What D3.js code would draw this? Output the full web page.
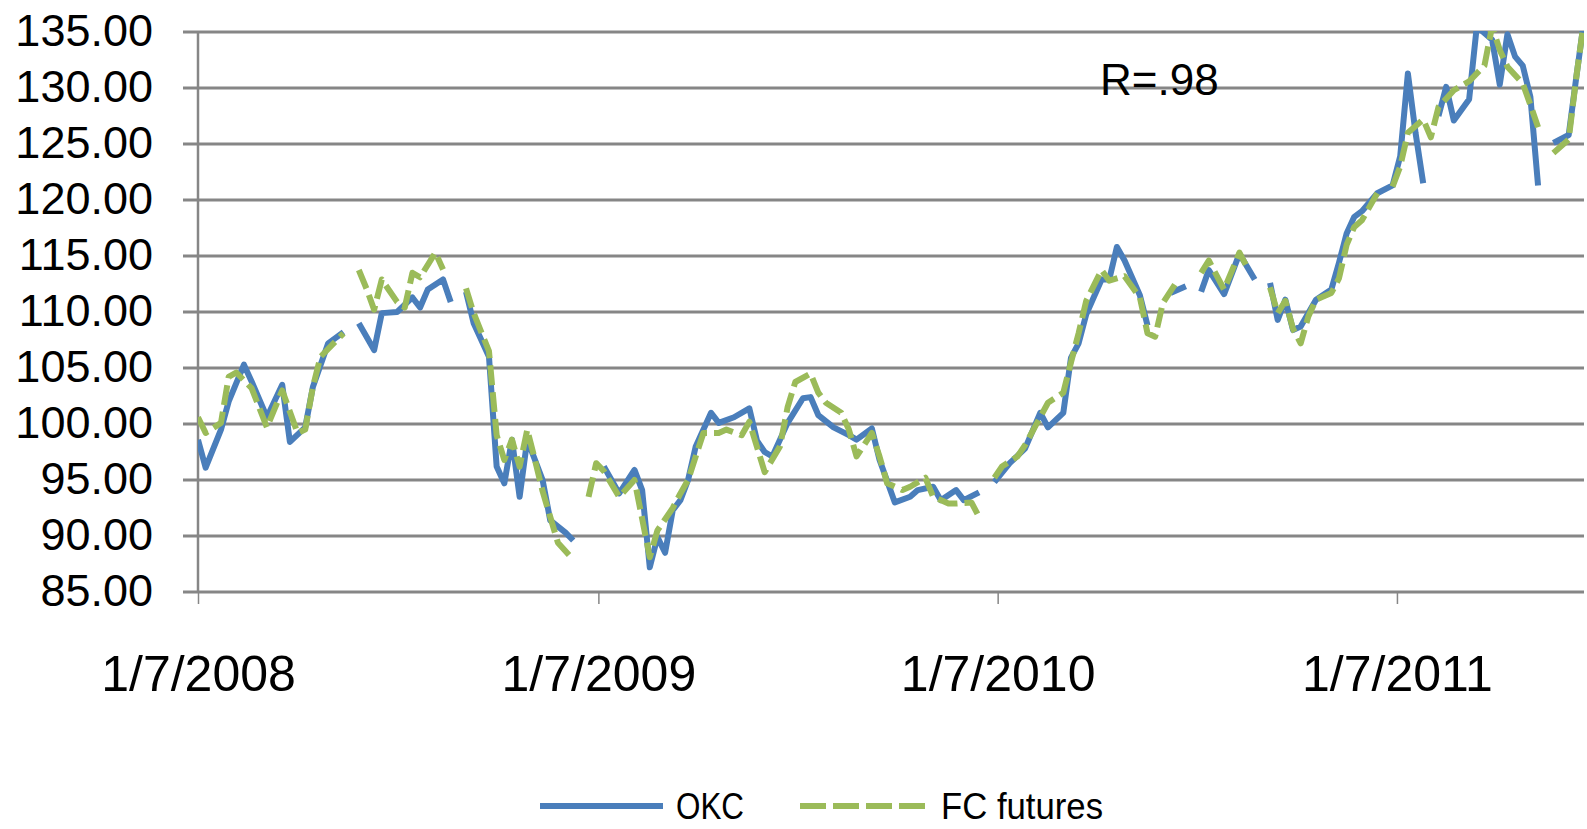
<!DOCTYPE html>
<html>
<head>
<meta charset="utf-8">
<script src="https://cdn.jsdelivr.net/npm/d3@7"></script>
<style>
    body { margin: 0; background: #fff; }
    svg text { font-family: "Liberation Sans", Arial, sans-serif; fill: #000; }
</style>
</head>
<body>
<div id="chart"></div>
<script>
// weekly series, [week number since 1/7/2008, price], null = no data that week
var okcPoints = [
    [0, 98.6], [1, 96.1], [3, 99.5], [4, 102.0], [6, 105.3], [7, 103.8], [9, 100.6], [11, 103.5],
    [12, 98.4], [14, 99.7], [15, 103.3], [17, 107.2], [19, 108.2], [20, null], [21, 109.0], [23, 106.6],
    [24, 109.9], [26, 110.0], [28, 111.3], [29, 110.4], [30, 112.0], [32, 112.9], [33, 110.9], [34, null],
    [35, 111.8], [36, 109.0], [38, 106.0], [39, 96.2], [40, 94.7], [41, 98.6], [42, 93.5], [43, 98.6],
    [45, 95.0], [46, 91.4], [48, 90.3], [49, 89.6], [50, null], [53, 96.2], [55, 93.8], [57, 95.9],
    [58, 94.1], [59, 87.2], [60, 89.9], [61, 88.5], [62, 92.3], [63, 93.2], [64, 95.0], [65, 98.0],
    [67, 101.0], [68, 100.1], [70, 100.6], [72, 101.4], [73, 98.5], [74, 97.5], [75, 97.1], [77, 100.1],
    [79, 102.3], [80, 102.4], [81, 100.8], [83, 99.7], [85, 99.0], [86, 98.6], [88, 99.6], [89, 96.8],
    [91, 93.0], [93, 93.5], [94, 94.1], [96, 94.4], [97, 93.2], [99, 94.1], [100, 93.2], [102, 93.9],
    [103, null], [104, 94.8], [106, 96.5], [108, 97.8], [110, 101.0], [111, 99.7], [113, 101.0], [114, 105.9],
    [115, 107.2], [116, 109.8], [118, 112.9], [119, 112.9], [120, 115.8], [121, 114.6], [123, 111.5], [124, 108.8],
    [125, null], [127, 111.7], [129, 112.3], [130, null], [131, 111.8], [132, 113.75], [134, 111.6], [136, 115.2],
    [138, 112.9], [139, null], [140, 112.6], [141, 109.3], [142, 111.1], [143, 108.4], [144, 108.7], [146, 111.1],
    [148, 112.0], [149, 114.4], [150, 117.0], [151, 118.5], [152, 119.0], [154, 120.6], [156, 121.3], [157, 123.9],
    [158, 131.3], [159, 126.0], [160, 121.5], [161, null], [162, 127.5], [163, 130.1], [164, 127.1], [166, 129.0],
    [167, 135.5], [169, 134.3], [170, 130.3], [171, 134.8], [172, 132.8], [173, 132.0], [174, 129.2], [175, 121.3],
    [176, null], [177, 125.1], [179, 125.8], [180, 131.0], [181, 136.0]
];

var fcPoints = [
    [0, 100.6], [1, 99.2], [3, 100.1], [4, 104.2], [5, 104.6], [7, 103.2], [9, 99.7], [11, 103.0],
    [13, 99.2], [14, 99.5], [15, 103.3], [16, 106.0], [19, 108.1], [20, null], [21, 113.75], [22, 112.1],
    [23, 110.2], [24, 112.9], [26, 110.9], [27, 110.4], [28, 113.5], [29, 113.1], [31, 115.3], [32, 113.8],
    [33, null], [35, 112.1], [36, 109.9], [38, 106.5], [39, 99.0], [40, 96.8], [41, 98.6], [42, 96.2],
    [43, 99.5], [44, 96.8], [45, 94.0], [46, 91.7], [47, 89.4], [49, 87.9], [50, null], [51, 93.5],
    [52, 96.5], [53, 95.8], [55, 93.5], [57, 95.0], [59, 88.1], [60, 90.5], [62, 92.5], [63, 93.8],
    [64, 95.0], [66, 99.2], [68, 99.2], [69, 99.5], [71, 99.0], [72, 100.2], [74, 95.7], [76, 98.0],
    [77, 101.5], [78, 103.75], [80, 104.5], [81, 102.8], [82, 101.9], [84, 101.0], [85, 99.5], [86, 97.1],
    [88, 99.2], [89, 97.1], [90, 94.7], [92, 94.1], [93, 94.4], [95, 95.2], [96, 93.5], [98, 92.9],
    [99, 92.9], [101, 93.0], [102, 91.7], [103, null], [104, 95.2], [105, 96.2], [107, 97.1], [108, 98.1],
    [111, 101.9], [113, 102.8], [114, 105.5], [115, 108.1], [116, 111.0], [118, 113.75], [119, 112.8], [121, 113.2],
    [123, 111.3], [124, 108.1], [125, 107.8], [126, 110.8], [128, 112.9], [130, null], [131, 113.5], [132, 114.6],
    [134, 112.0], [136, 115.3], [137, 114.0], [138, null], [140, 112.2], [141, 109.9], [142, 111.0], [143, 108.5],
    [144, 107.2], [145, 109.6], [146, 111.1], [148, 111.7], [149, 113.0], [150, 116.0], [151, 117.6], [152, 118.2],
    [154, 120.6], [155, null], [156, 121.2], [157, 123.0], [158, 126.0], [160, 127.2], [161, 125.6], [162, 128.3],
    [164, 129.8], [166, 130.6], [168, 132.0], [169, 135.5], [170, 133.4], [171, 131.9], [173, 130.4], [174, 128.5],
    [175, 126.5], [176, null], [177, 124.2], [178, 124.8], [179, 125.4], [180, 131.0], [181, 136.0]
];

var yTicks = [85, 90, 95, 100, 105, 110, 115, 120, 125, 130, 135];
var xTickLabels = ["1/7/2008", "1/7/2009", "1/7/2010", "1/7/2011"];
var seriesNames = ["OKC", "FC futures"];
var corrLabel = "R=.98";

var outerWidth = 1587;
var outerHeight = 829;

// plot area box (Excel-ish layout)
var margin = {top: 32, right: 3, bottom: 237, left: 198}
    , width = outerWidth - margin.left - margin.right
    , height = outerHeight - margin.top - margin.bottom;

var parseDate = d3.timeParse("%m/%d/%Y");
var startDate = parseDate("01/07/2008");
var weekDate = function(w) { return d3.timeDay.offset(startDate, w * 7); };

var svg = d3.select("#chart")
    .append("svg")
    .attr("width", outerWidth)
    .attr("height", outerHeight)
    .append("g")
    .attr("transform", "translate(" + margin.left + "," + margin.top + ")");

var xScale = d3.scaleTime()
    .domain([startDate, weekDate(181)])
    .range([0, width]);

var yScale = d3.scaleLinear()
    .domain([85, 135])
    .range([height, 0]);

// horizontal gridlines + little ticks left of the axis
svg.append("g")
    .attr("class", "grid")
    .selectAll("line")
    .data(yTicks)
    .enter()
    .append("line")
    .attr("x1", -15)
    .attr("x2", width)
    .attr("y1", d => yScale(d))
    .attr("y2", d => yScale(d))
    .attr("stroke", "#868686")
    .attr("stroke-width", 3);

// y labels
svg.append("g")
    .selectAll("text")
    .data(yTicks)
    .enter()
    .append("text")
    .attr("x", -45)
    .attr("y", d => yScale(d) + 14)
    .attr("text-anchor", "end")
    .style("font-size", "45px")
    .text(d => d3.format(".2f")(d));

// vertical axis line
svg.append("line")
    .attr("x1", 0).attr("x2", 0)
    .attr("y1", 0).attr("y2", height)
    .attr("stroke", "#868686")
    .attr("stroke-width", 2.5);

// x axis ticks + labels
var xAxis = d3.axisBottom(xScale)
    .tickValues(xTickLabels.map(parseDate))
    .tickSize(12)
    .tickFormat(d3.timeFormat("%-m/%-d/%Y"));

var gx = svg.append("g")
    .attr("class", "axis x-axis")
    .attr("transform", "translate(0," + height + ")")
    .call(xAxis);

gx.select(".domain").remove();
gx.selectAll(".tick line").attr("stroke", "#868686").attr("stroke-width", 1.5);
gx.selectAll(".tick text")
    .attr("y", 99)
    .attr("dy", 0)
    .style("font-size", "50px")
    .style("font-family", "'Liberation Sans', Arial, sans-serif");

// clip lines to plot area
svg.append("clipPath")
    .attr("id", "plot-clip")
    .append("rect")
    .attr("x", 0)
    .attr("y", -1)
    .attr("width", width)
    .attr("height", height + 2);

var line = d3.line()
    .defined(d => d[1] != null)
    .x(d => xScale(weekDate(d[0])))
    .y(d => yScale(d[1]));

var plot = svg.append("g").attr("clip-path", "url(#plot-clip)");

plot.append("path")
    .datum(okcPoints)
    .attr("class", "okc-line")
    .attr("d", line)
    .attr("fill", "none")
    .attr("stroke", "#4A7EBB")
    .attr("stroke-width", 6)
    .attr("stroke-linejoin", "round");

plot.append("path")
    .datum(fcPoints)
    .attr("class", "fc-line")
    .attr("d", line)
    .attr("fill", "none")
    .attr("stroke", "#9BBB59")
    .attr("stroke-width", 6)
    .attr("stroke-dasharray", "20,7")
    .attr("stroke-linejoin", "round");

// R annotation
svg.append("text")
    .attr("x", 1100 - margin.left)
    .attr("y", 95 - margin.top)
    .style("font-size", "44px")
    .text(corrLabel);

// legend
var legend = svg.append("g")
    .attr("transform", "translate(0," + (806 - margin.top) + ")");

legend.append("line")
    .attr("x1", 540 - margin.left).attr("x2", 663 - margin.left)
    .attr("y1", 0).attr("y2", 0)
    .attr("stroke", "#4A7EBB")
    .attr("stroke-width", 6);

legend.append("text")
    .attr("x", 676 - margin.left)
    .attr("y", 13)
    .attr("textLength", 68)
    .attr("lengthAdjust", "spacingAndGlyphs")
    .style("font-size", "36px")
    .text(seriesNames[0]);

legend.append("line")
    .attr("x1", 800 - margin.left).attr("x2", 926 - margin.left)
    .attr("y1", 0).attr("y2", 0)
    .attr("stroke", "#9BBB59")
    .attr("stroke-width", 6)
    .attr("stroke-dasharray", "26,7");

legend.append("text")
    .attr("x", 941 - margin.left)
    .attr("y", 13)
    .attr("textLength", 162)
    .attr("lengthAdjust", "spacingAndGlyphs")
    .style("font-size", "36px")
    .text(seriesNames[1]);
</script>
</body>
</html>
